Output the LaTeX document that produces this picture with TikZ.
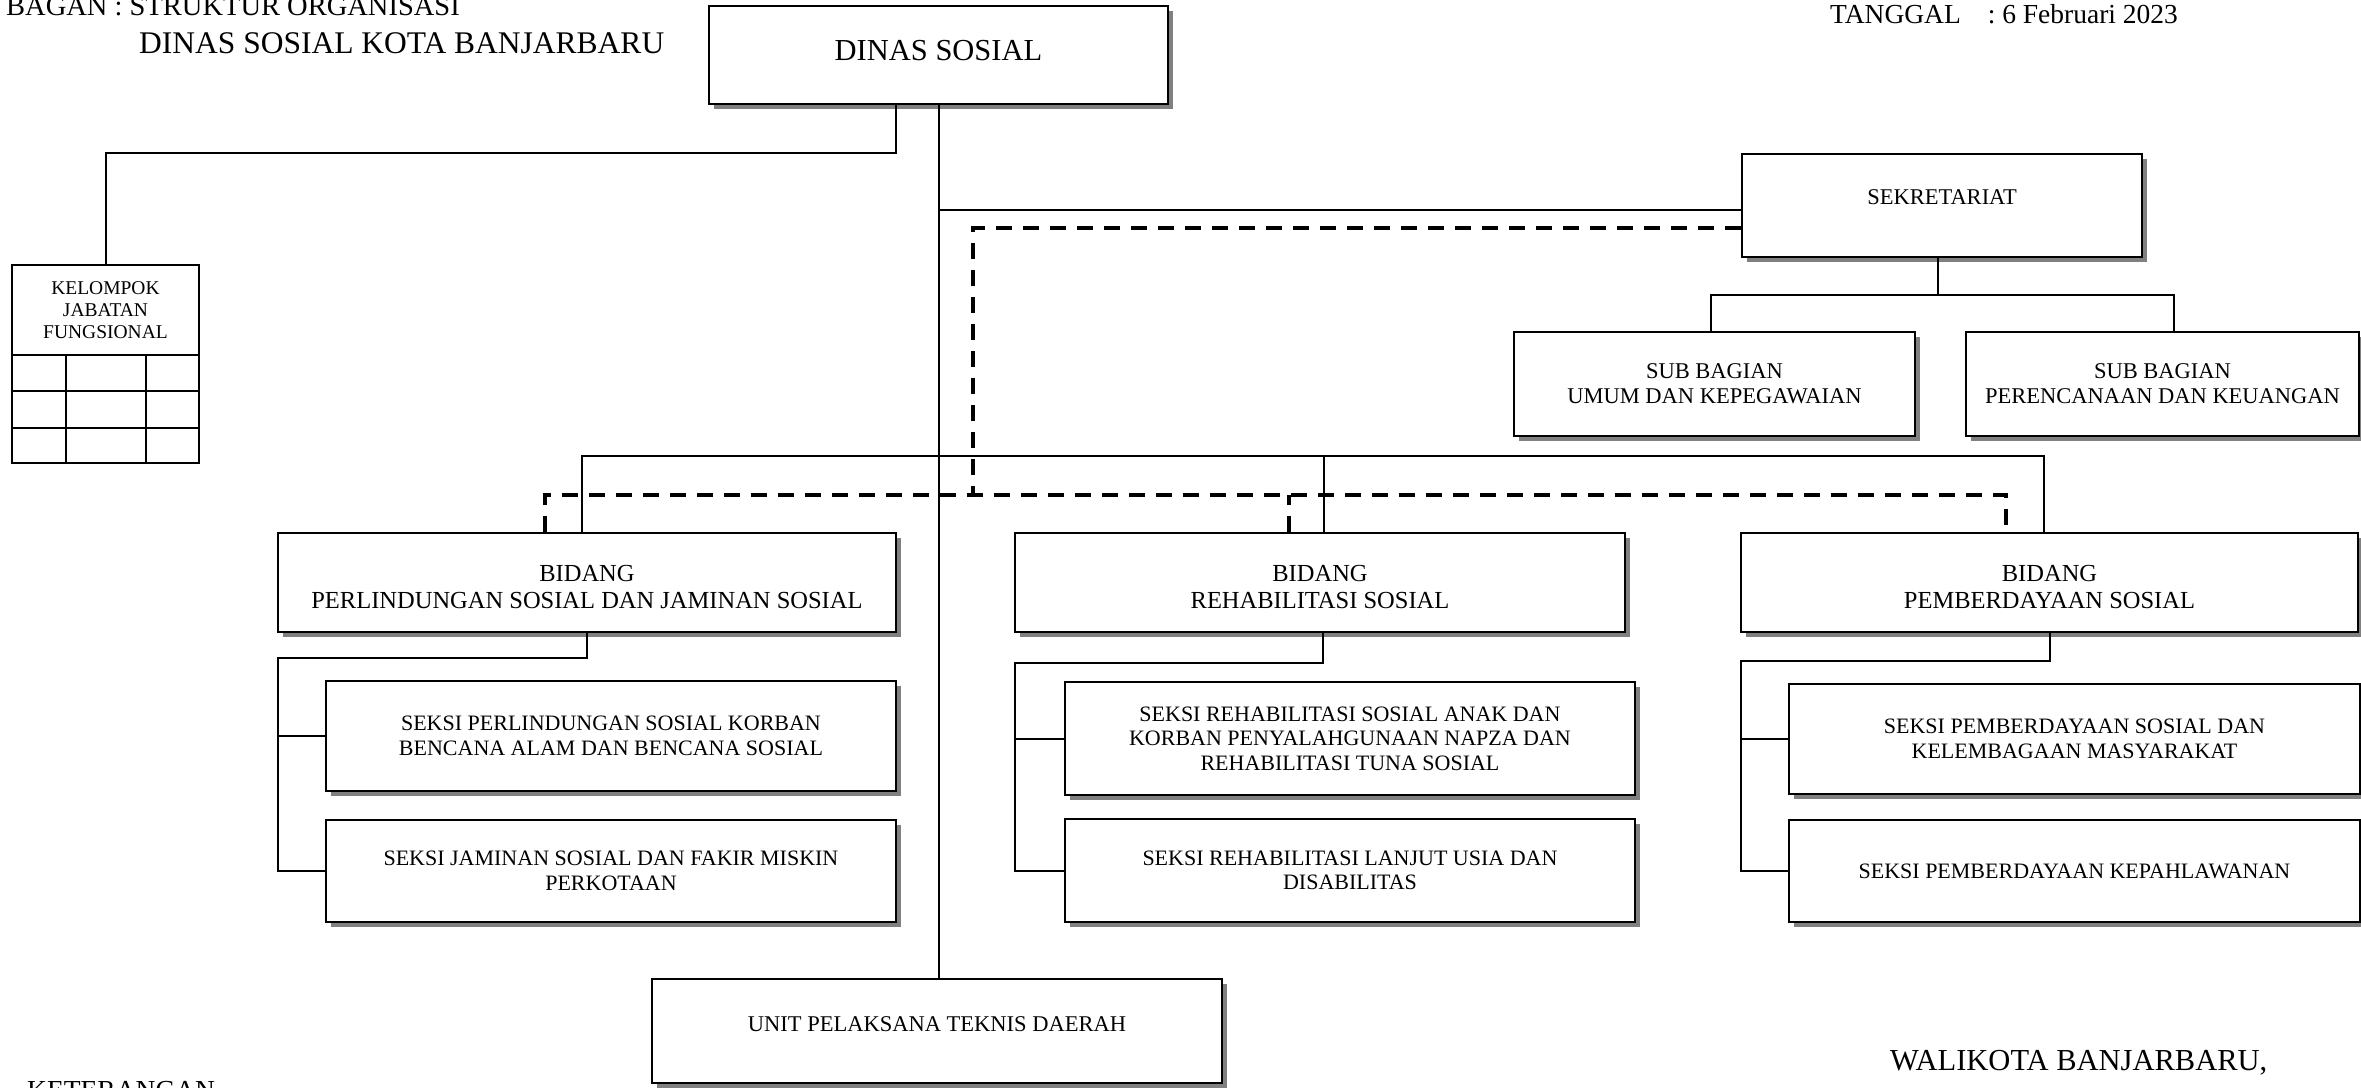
\documentclass[tikz,border=0pt]{standalone}
\usepackage{fontspec}
\setmainfont{Liberation Serif}
\usetikzlibrary{shadows,calc}
\tikzset{
 box/.style={draw, line width=2.5pt, fill=white, inner sep=0pt, align=center,
   drop shadow={shadow xshift=5pt, shadow yshift=-5pt, fill=black!50, opacity=1}},
 conn/.style={line width=2pt},
 dashconn/.style={line width=4pt, dash pattern=on 16pt off 11pt},
 fbig/.style={font=\fontsize{30.5}{36}\selectfont},
 fmid/.style={font=\fontsize{27.5}{30}\selectfont},
 fbid/.style={font=\fontsize{24.5}{27}\selectfont},
 fsek/.style={font=\fontsize{22.5}{25}\selectfont},
 fseksi/.style={font=\fontsize{22}{24.5}\selectfont},
 fkjf/.style={font=\fontsize{19.5}{22}\selectfont},
 plain/.style={inner sep=0pt, anchor=base west},
}
\newcommand{\bidtext}[2]{\raisebox{0.7pt}[0pt][0pt]{\begin{tabular}[t]{@{}c@{}}#1\\#2\end{tabular}}}
\begin{document}
\begin{tikzpicture}[x=1pt,y=-1pt]
\useasboundingbox (0,0) rectangle (2361,1087);
\clip (0,0) rectangle (2361,1087);
\fill[white] (0,0) rectangle (2361,1087);

% header texts
\node[plain, font=\fontsize{28.5}{34}\selectfont] (title1) at (6,15) {BAGAN : STRUKTUR ORGANISASI};
\node[plain, font=\fontsize{31.5}{36}\selectfont] (title2) at (139,53) {DINAS SOSIAL KOTA BANJARBARU};
\node[plain, fmid] (tgl) at (1830,23) {TANGGAL\hspace{20pt} : 6 Februari 2023};

% boxes
\node[box, fbig, minimum width=459pt, minimum height=98pt] (dinas) at (938.5,55) {\raisebox{-5.1pt}[0pt][0pt]{DINAS SOSIAL}};
\node[box, fsek, minimum width=400pt, minimum height=103pt] (sek) at (1942,205.5) {\raisebox{0.8pt}[0pt][0pt]{SEKRETARIAT}};
\node[box, fsek, minimum width=401pt, minimum height=104pt] (sbu) at (1714.5,384) {SUB BAGIAN\\UMUM DAN KEPEGAWAIAN};
\node[box, fsek, minimum width=393pt, minimum height=104pt] (sbp) at (2162.5,384) {SUB BAGIAN\\PERENCANAAN DAN KEUANGAN};

\node[box, fbid, minimum width=618pt, minimum height=99pt] (bid1) at (587,582.5) {\bidtext{BIDANG}{PERLINDUNGAN SOSIAL DAN JAMINAN SOSIAL}};
\node[box, fbid, minimum width=610pt, minimum height=99pt] (bid2) at (1320,582.5) {\bidtext{BIDANG}{REHABILITASI SOSIAL}};
\node[box, fbid, minimum width=617pt, minimum height=99pt] (bid3) at (2049.5,582.5) {\bidtext{BIDANG}{PEMBERDAYAAN SOSIAL}};

\node[box, fseksi, minimum width=570pt, minimum height=110pt] (s11) at (611,736) {SEKSI PERLINDUNGAN SOSIAL KORBAN\\BENCANA ALAM DAN BENCANA SOSIAL};
\node[box, fseksi, minimum width=570pt, minimum height=102pt] (s12) at (611,871) {SEKSI JAMINAN SOSIAL DAN FAKIR MISKIN\\PERKOTAAN};
\node[box, fseksi, minimum width=570pt, minimum height=113pt] (s21) at (1350,738.5) {SEKSI REHABILITASI SOSIAL ANAK DAN\\KORBAN PENYALAHGUNAAN NAPZA DAN\\REHABILITASI TUNA SOSIAL};
\node[box, fseksi, minimum width=570pt, minimum height=103pt] (s22) at (1350,870.5) {SEKSI REHABILITASI LANJUT USIA DAN\\DISABILITAS};
\node[box, fseksi, minimum width=571pt, minimum height=110pt] (s31) at (2074.5,739) {SEKSI PEMBERDAYAAN SOSIAL DAN\\KELEMBAGAAN MASYARAKAT};
\node[box, fseksi, minimum width=571pt, minimum height=102pt] (s32) at (2074.5,871) {SEKSI PEMBERDAYAAN KEPAHLAWANAN};

\node[box, fsek, minimum width=570pt, minimum height=104pt] (uptd) at (937,1031) {\raisebox{-0.4pt}[0pt][0pt]{UNIT PELAKSANA TEKNIS DAERAH}};

% kelompok jabatan fungsional
\node[draw, line width=2.2pt, fkjf, align=center, inner sep=0pt, minimum width=187pt, minimum height=90pt] (kjf) at (105.5,310) {KELOMPOK\\JABATAN\\FUNGSIONAL};
\node[draw, line width=2.2pt, inner sep=0pt, minimum width=187pt, minimum height=108pt] (kjfgrid) at (105.5,409) {};
\draw[line width=2.2pt] (12,391) -- (199,391) (12,428) -- (199,428)
  (66,355) -- (66,463) (146,355) -- (146,463);

% connectors
\coordinate (kjfj) at (896,153);
\draw[conn] (kjfj |- dinas.south) -- (kjfj) -| (kjf.north);
\draw[conn] (dinas.south) -- (dinas.south |- uptd.north);
\coordinate (sekj) at ($(sek.west)+(0,4.5)$);
\draw[conn] (sekj) -- (sekj -| dinas.south);

% dashed coordination lines
\coordinate (sekd) at ($(sek.west)+(0,22.5)$);
\coordinate (dj) at (973,496);
\draw[dashconn] (sekd) -| (dj);
\draw[dashconn] ($(bid1.north)+(-42,0)$) |- ($(bid3.north)+(-43.5,-37)$) -- ($(bid3.north)+(-43.5,0)$);
\draw[dashconn] ($(bid2.north)+(-31,0)$) -- ++(0,-37);

% solid bus to bidang
\draw[conn] ($(bid1.north)+(-5,0)$) |- ($(bid3.north)+(-5.5,-76)$) -- ($(bid3.north)+(-5.5,0)$);
\draw[conn] ($(bid2.north)+(4,0)$) -- ++(0,-76);

% sekretariat to sub bagian
\coordinate (sekb) at (1938,296);
\draw[conn] (sekb |- sek.south) -- (sekb);
\draw[conn] ($(sbu.north)+(-3.5,0)$) |- ($(sbp.north)+(11.5,-36)$) -- ($(sbp.north)+(11.5,0)$);

% bidang to seksi
\coordinate (b1l) at (278,658);
\draw[conn] (bid1.south) |- (b1l) |- (s12.west);
\draw[conn] (s11.west) -- (s11.west -| b1l);
\coordinate (b2l) at (1015,663);
\draw[conn] ($(bid2.south)+(3,0)$) |- (b2l) |- (s22.west);
\draw[conn] (s21.west) -- (s21.west -| b2l);
\coordinate (b3l) at (1741,661);
\draw[conn] (bid3.south) |- (b3l) |- (s32.west);
\draw[conn] (s31.west) -- (s31.west -| b3l);

% footer texts
\node[plain, fbig] (wali) at (1890,1070) {WALIKOTA BANJARBARU,};
\node[plain, fmid] (ket) at (27,1099) {KETERANGAN};
\end{tikzpicture}
\end{document}
